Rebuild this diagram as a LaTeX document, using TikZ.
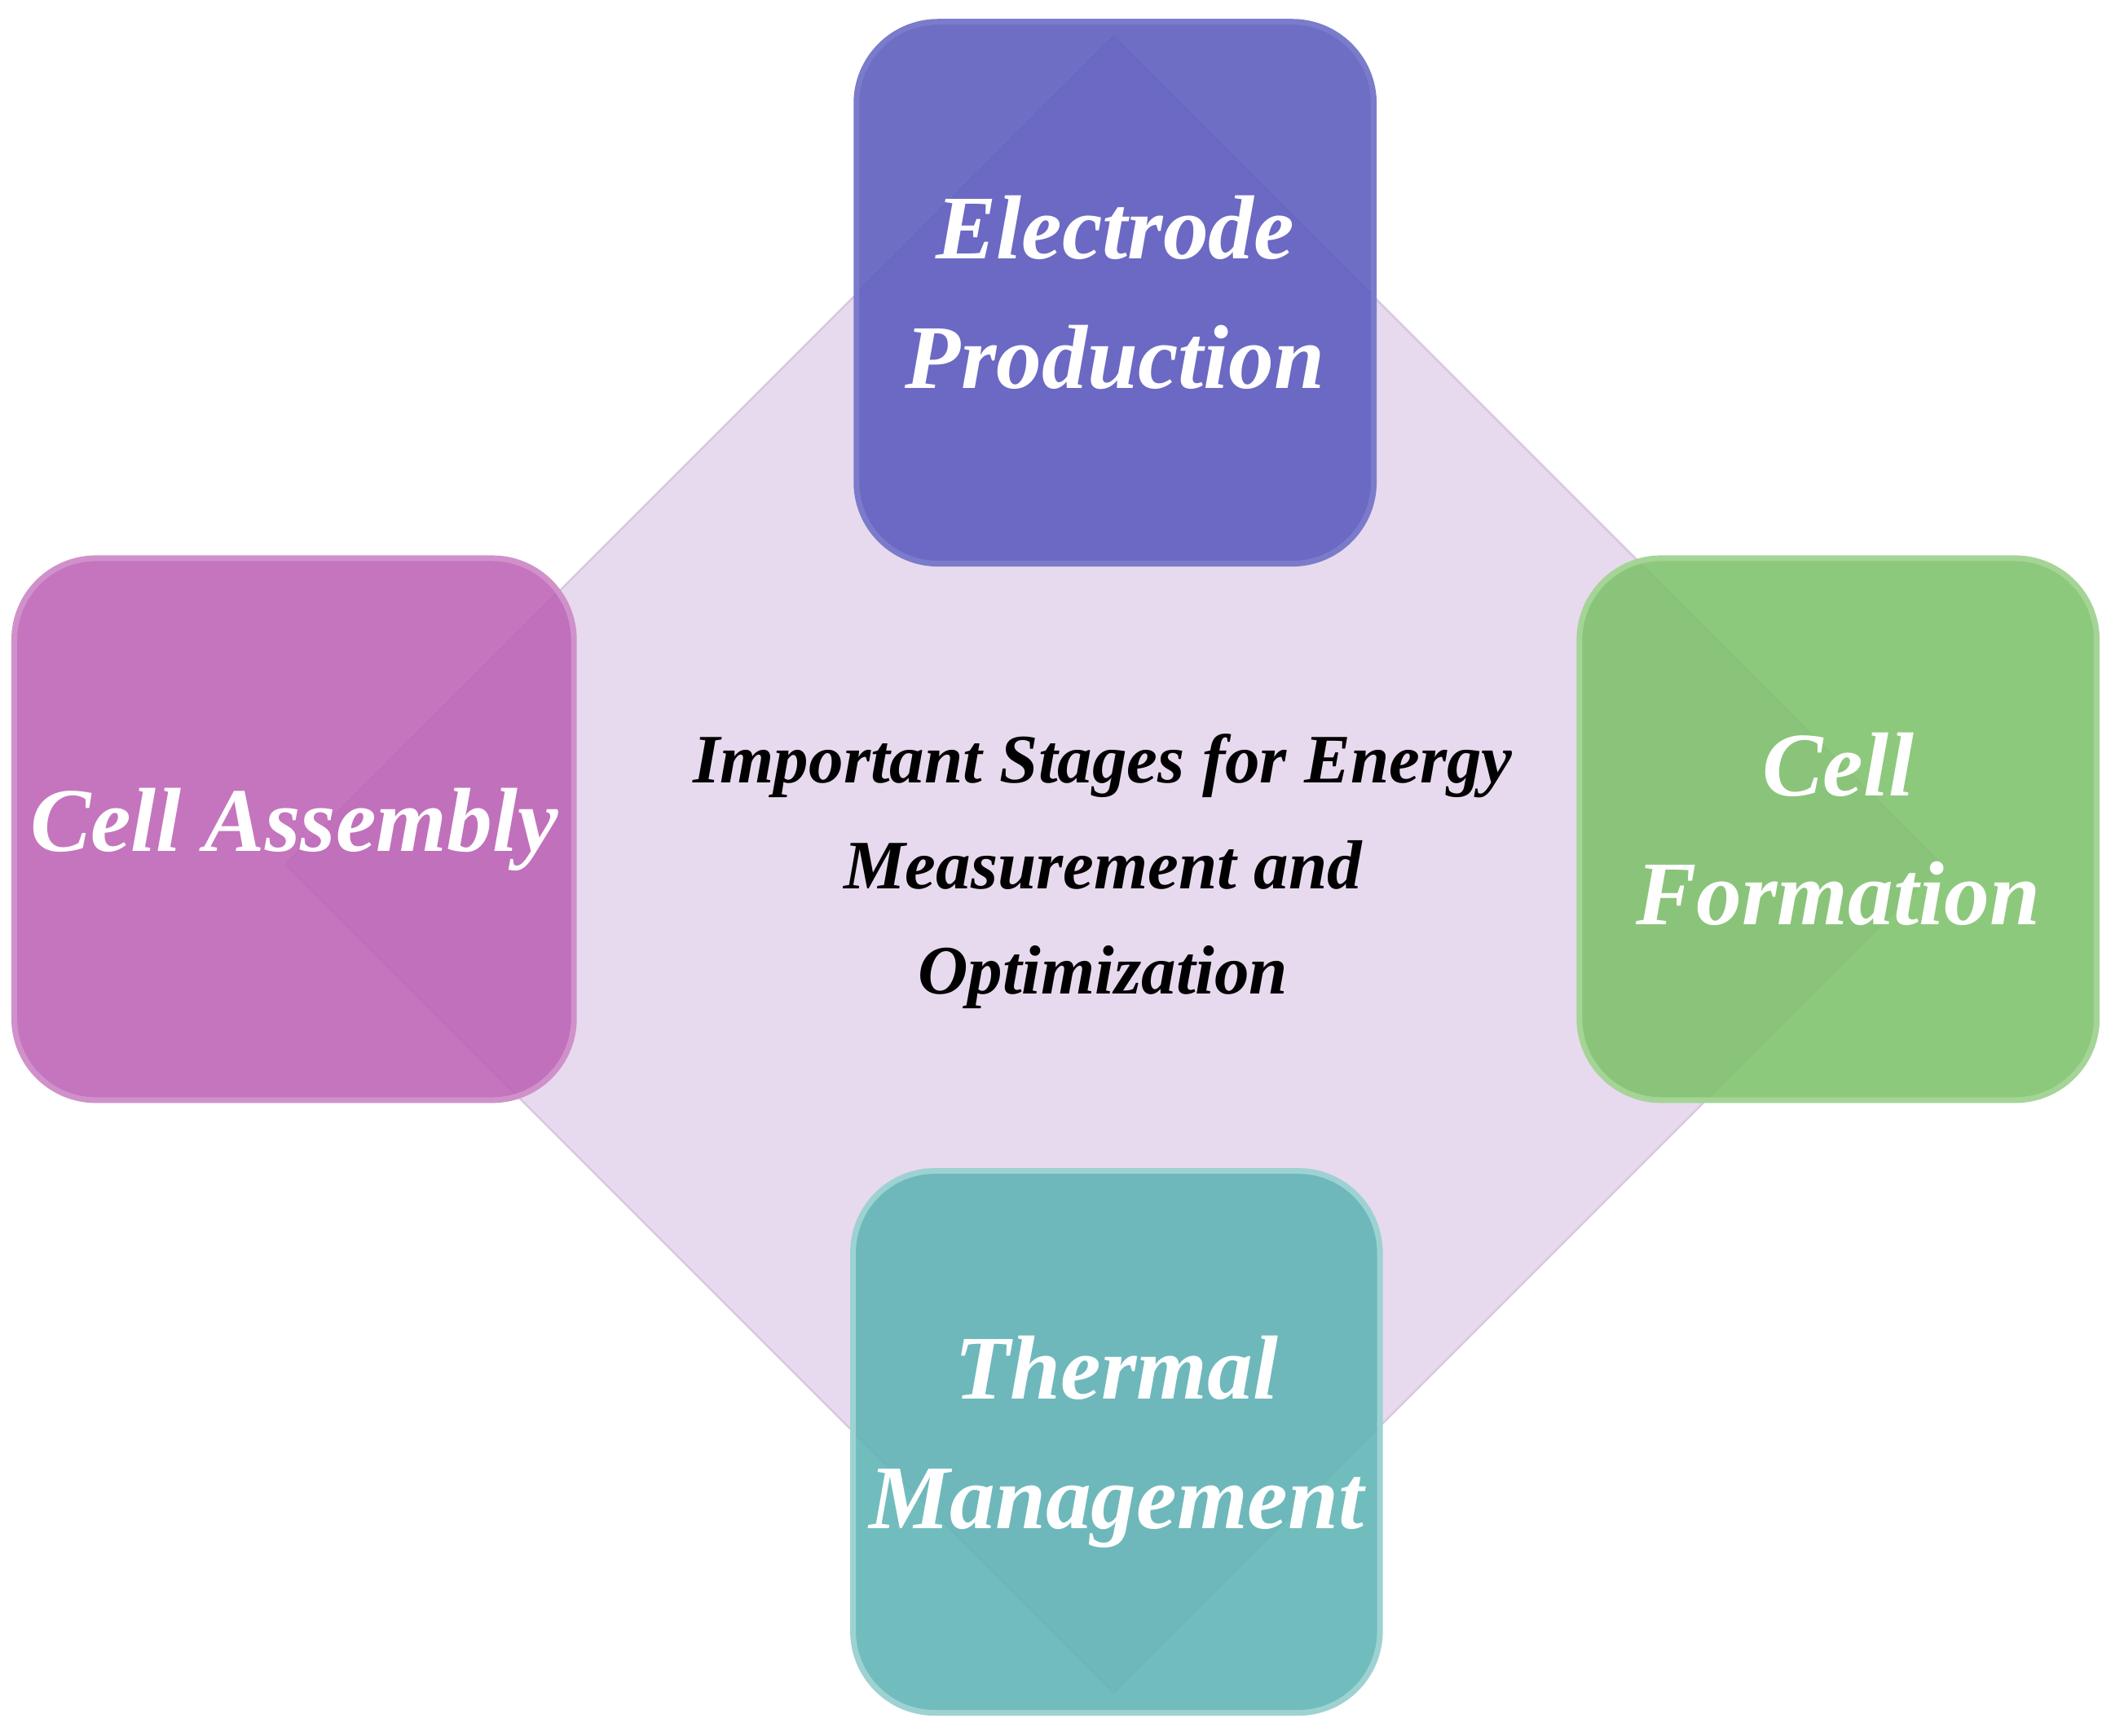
\documentclass[tikz,border=0pt]{standalone}
\usepackage{fontspec}
\setmainfont{Liberation Serif}
\usetikzlibrary{positioning,shadows}
\definecolor{diamondfill}{HTML}{E8DAEE}
\definecolor{diamondline}{HTML}{D9C6E3}
\definecolor{electrodecol}{HTML}{5A5ABE}
\definecolor{assemblycol}{HTML}{BC62B5}
\definecolor{formationcol}{HTML}{7EC26A}
\definecolor{thermalcol}{HTML}{5EB4B4}

\begin{document}
\begin{tikzpicture}[
		stage/.style={rounded corners=0.6cm, minimum width=3.8cm, minimum height=3.98cm,
			fill opacity=0.88, text opacity=1, text=white, align=center,
			font=\fontsize{19}{27}\selectfont\bfseries\itshape, line width=1.2pt},
		centre/.style={align=center, font=\fontsize{14.5}{22}\selectfont\bfseries\itshape},
	]
		\useasboundingbox (0,0) rectangle (15.6,-12.75);
		\fill[white] (0,0) rectangle (15.6,-12.75);

		% diamond behind the four stages
		\draw[diamondline, fill=diamondfill] (8.18,-0.27) coordinate (top)
			-- (14.26,-6.35) coordinate (right)
			-- (8.18,-12.43) coordinate (bottom)
			-- (2.10,-6.35) coordinate (left) -- cycle;

		\node[stage, fill=electrodecol, draw=electrodecol!80!white] (electrode) at (8.19,-2.15) {Electrode\\Production};
		\node[stage, fill=assemblycol, draw=assemblycol!70!white] (assembly) at (2.16,-6.09) {Cell Assembly};
		\node[stage, fill=formationcol, draw=formationcol!70!white] (formation) at (13.5,-6.09) {Cell\\Formation};
		\node[stage, fill=thermalcol, draw=thermalcol!60!white] (thermal) at (8.2,-10.59) {Thermal\\Management};

		\node[centre] (stages) at (8.1,-6.4) {Important Stages for Energy\\Measurement and\\Optimization};
	\end{tikzpicture}
\end{document}
